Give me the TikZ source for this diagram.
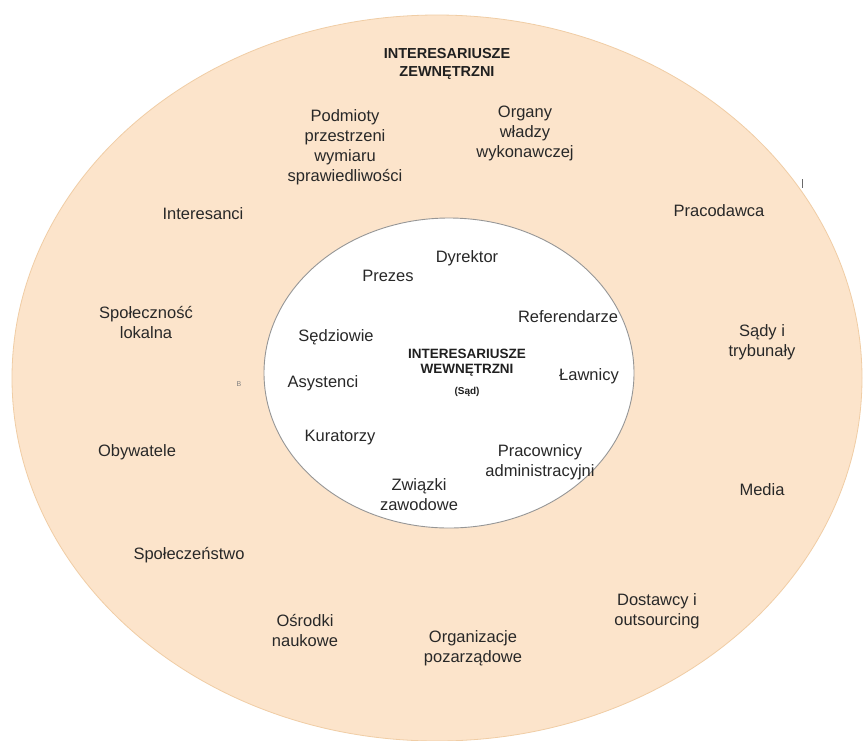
\documentclass[tikz,border=0pt]{standalone}
\usepackage{fontspec}
\setmainfont{Liberation Sans}
\definecolor{peach}{RGB}{252,228,203}
\definecolor{peachedge}{RGB}{240,205,165}
\definecolor{ringgray}{RGB}{150,150,150}
\definecolor{txt}{RGB}{40,40,40}
\begin{document}
\begin{tikzpicture}[x=1pt,y=-1pt,
  lbl/.style={align=center,text=txt,inner sep=0pt,font=\fontsize{16.5}{20}\selectfont},
  head/.style={align=center,text=txt!80!black,inner sep=0pt,font=\bfseries\fontsize{14.5}{18}\selectfont},
  ihead/.style={align=center,text=txt!80!black,inner sep=0pt,font=\bfseries\fontsize{13.5}{15}\selectfont}]
\useasboundingbox (0,0) rectangle (863,740);
\fill[white] (0,0) rectangle (863,740);
% outer ring
\draw[fill=peach,draw=peachedge,line width=0.8pt] (437,378) ellipse [x radius=425, y radius=363];
% inner circle
\draw[fill=white,draw=ringgray,line width=0.9pt] (449,373) ellipse [x radius=185, y radius=155];

% outer stakeholders
\node[head] (zewn) at (447,64) {INTERESARIUSZE\\ZEWNĘTRZNI};
\node[lbl] (podm) at (345,147) {Podmioty\\przestrzeni\\wymiaru\\sprawiedliwości};
\node[lbl] (organy) at (525,133) {Organy\\władzy\\wykonawczej};
\node[lbl] (interes) at (203,214) {Interesanci};
\node[lbl] (praco) at (719,211) {Pracodawca};
\node[lbl] (spolok) at (146,322) {Społeczność\\lokalna};
\node[lbl] (sady) at (762,342) {Sądy i\\trybunały};
\node[lbl] (obyw) at (137,452) {Obywatele};
\node[lbl] (media) at (762,490) {Media};
\node[lbl] (spol) at (189,555) {Społeczeństwo};
\node[lbl] (osrod) at (305,630) {Ośrodki\\naukowe};
\node[lbl] (organiz) at (473,648) {Organizacje\\pozarządowe};
\node[lbl] (dost) at (657,611) {Dostawcy i\\outsourcing};
% stray marks
\node[text=txt!60,inner sep=0pt,font=\fontsize{7}{8}\selectfont] (bmark) at (239,384) {B};
\coordinate (tickA) at (802,179);
\coordinate (tickB) at (802,188);
\draw[txt!70,line width=0.8pt] (tickA) -- (tickB);

% inner stakeholders
\node[lbl] (dyr) at (467,258) {Dyrektor};
\node[lbl] (prezes) at (388,276) {Prezes};
\node[lbl] (refer) at (568,317) {Referendarze};
\node[lbl] (sedz) at (336,337) {Sędziowie};
\node[ihead] (wewn) at (467,363) {INTERESARIUSZE\\WEWNĘTRZNI};
\node[text=txt!80!black,inner sep=0pt,font=\bfseries\fontsize{10}{12}\selectfont] (sad) at (467,392) {(Sąd)};
\node[lbl] (lawn) at (589,376) {Ławnicy};
\node[lbl] (asyst) at (323,383) {Asystenci};
\node[lbl] (kurat) at (340,438) {Kuratorzy};
\node[lbl] (pracadm) at (540,462) {Pracownicy\\administracyjni};
\node[lbl] (zwiazki) at (419,495) {Związki\\zawodowe};
\end{tikzpicture}
\end{document}
